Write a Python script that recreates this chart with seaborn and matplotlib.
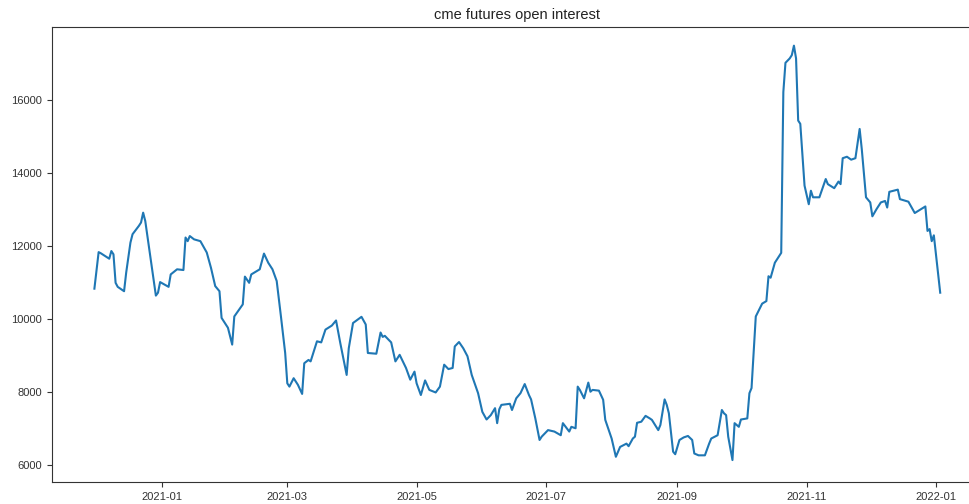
import matplotlib
matplotlib.use("Agg")
import matplotlib.pyplot as plt
import matplotlib.dates as mdates
import pandas as pd
import seaborn as sns

# CME futures open interest, daily readings
dates = [
    "2020-11-30", "2020-12-02", "2020-12-03", "2020-12-07", "2020-12-08", "2020-12-09",
    "2020-12-10", "2020-12-11", "2020-12-14", "2020-12-15", "2020-12-17", "2020-12-18",
    "2020-12-21", "2020-12-22", "2020-12-23", "2020-12-24", "2020-12-27", "2020-12-29",
    "2020-12-30", "2020-12-31", "2021-01-04", "2021-01-05", "2021-01-08", "2021-01-11",
    "2021-01-12", "2021-01-13", "2021-01-14", "2021-01-16", "2021-01-19", "2021-01-22",
    "2021-01-24", "2021-01-26", "2021-01-28", "2021-01-29", "2021-02-01", "2021-02-03",
    "2021-02-04", "2021-02-08", "2021-02-09", "2021-02-11", "2021-02-12", "2021-02-16",
    "2021-02-18", "2021-02-20", "2021-02-22", "2021-02-24", "2021-02-26", "2021-02-28",
    "2021-03-01", "2021-03-02", "2021-03-04", "2021-03-06", "2021-03-08", "2021-03-09",
    "2021-03-11", "2021-03-12", "2021-03-15", "2021-03-17", "2021-03-19", "2021-03-22",
    "2021-03-24", "2021-03-26", "2021-03-29", "2021-03-30", "2021-04-01", "2021-04-05",
    "2021-04-07", "2021-04-08", "2021-04-12", "2021-04-14", "2021-04-15", "2021-04-16",
    "2021-04-19", "2021-04-21", "2021-04-23", "2021-04-26", "2021-04-28", "2021-04-30",
    "2021-05-01", "2021-05-03", "2021-05-05", "2021-05-07", "2021-05-10", "2021-05-12",
    "2021-05-14", "2021-05-16", "2021-05-18", "2021-05-19", "2021-05-21", "2021-05-23",
    "2021-05-25", "2021-05-27", "2021-05-30", "2021-06-01", "2021-06-03", "2021-06-05",
    "2021-06-07", "2021-06-08", "2021-06-09", "2021-06-10", "2021-06-14", "2021-06-15",
    "2021-06-17", "2021-06-19", "2021-06-21", "2021-06-23", "2021-06-24", "2021-06-26",
    "2021-06-28", "2021-06-29", "2021-07-02", "2021-07-05", "2021-07-08", "2021-07-09",
    "2021-07-12", "2021-07-13", "2021-07-15", "2021-07-16", "2021-07-17", "2021-07-19",
    "2021-07-21", "2021-07-22", "2021-07-23", "2021-07-26", "2021-07-28", "2021-07-29",
    "2021-08-01", "2021-08-03", "2021-08-05", "2021-08-08", "2021-08-09", "2021-08-11",
    "2021-08-12", "2021-08-13", "2021-08-15", "2021-08-17", "2021-08-19", "2021-08-20",
    "2021-08-23", "2021-08-24", "2021-08-26", "2021-08-27", "2021-08-28", "2021-08-30",
    "2021-08-31", "2021-09-02", "2021-09-04", "2021-09-06", "2021-09-08", "2021-09-09",
    "2021-09-11", "2021-09-14", "2021-09-16", "2021-09-17", "2021-09-20", "2021-09-22",
    "2021-09-23", "2021-09-24", "2021-09-25", "2021-09-27", "2021-09-28", "2021-09-30",
    "2021-10-01", "2021-10-04", "2021-10-05", "2021-10-06", "2021-10-08", "2021-10-11",
    "2021-10-13", "2021-10-14", "2021-10-15", "2021-10-17", "2021-10-19", "2021-10-20",
    "2021-10-21", "2021-10-22", "2021-10-24", "2021-10-25", "2021-10-26", "2021-10-27",
    "2021-10-28", "2021-10-29", "2021-10-31", "2021-11-02", "2021-11-03", "2021-11-04",
    "2021-11-07", "2021-11-10", "2021-11-11", "2021-11-14", "2021-11-16", "2021-11-17",
    "2021-11-18", "2021-11-20", "2021-11-22", "2021-11-24", "2021-11-26", "2021-11-27",
    "2021-11-29", "2021-12-01", "2021-12-02", "2021-12-04", "2021-12-06", "2021-12-08",
    "2021-12-09", "2021-12-10", "2021-12-14", "2021-12-15", "2021-12-19", "2021-12-22",
    "2021-12-27", "2021-12-28", "2021-12-29", "2021-12-30", "2021-12-31", "2022-01-03",
]

open_interest = [
    10830, 11830, 11800, 11650, 11860, 11770,
    10990, 10880, 10760, 11270, 12090, 12320,
    12550, 12640, 12910, 12680, 11450, 10640,
    10720, 11010, 10880, 11220, 11360, 11340,
    12230, 12130, 12270, 12180, 12130, 11820,
    11400, 10900, 10760, 10030, 9760, 9300,
    10070, 10400, 11160, 10990, 11220, 11360,
    11790, 11540, 11360, 11040, 10070, 9070,
    8240, 8150, 8380, 8200, 7950, 8790,
    8880, 8840, 9390, 9360, 9710, 9820,
    9960, 9340, 8470, 9200, 9890, 10060,
    9850, 9070, 9050, 9630, 9510, 9540,
    9360, 8840, 9020, 8660, 8340, 8560,
    8240, 7920, 8320, 8060, 7990, 8150,
    8750, 8630, 8660, 9250, 9370, 9200,
    8980, 8470, 7970, 7460, 7250, 7370,
    7560, 7150, 7530, 7650, 7680, 7510,
    7830, 7970, 8220, 7920, 7800, 7280,
    6690, 6780, 6960, 6920, 6820, 7150,
    6920, 7050, 7010, 8150, 8060, 7830,
    8260, 8010, 8060, 8040, 7790, 7240,
    6730, 6230, 6500, 6590, 6520, 6730,
    6780, 7160, 7190, 7350, 7280, 7240,
    6960, 7100, 7800, 7650, 7420, 6370,
    6300, 6690, 6760, 6800, 6690, 6320,
    6270, 6270, 6590, 6730, 6820, 7510,
    7420, 7370, 6780, 6140, 7150, 7050,
    7250, 7280, 7970, 8110, 10070, 10420,
    10490, 11170, 11130, 11540, 11720, 11810,
    16210, 17010, 17130, 17220, 17480, 17130,
    15430, 15340, 13650, 13140, 13510, 13330,
    13330, 13830, 13690, 13580, 13760, 13690,
    14400, 14440, 14360, 14400, 15200, 14650,
    13330, 13190, 12810, 13010, 13190, 13230,
    13050, 13480, 13540, 13280, 13210, 12900,
    13080, 12410, 12460, 12130, 12290, 10720,
]

tick_months = [1, 3, 5, 7, 9, 11]

plt.rcParams["font.family"] = ["Liberation Sans", "DejaVu Sans"]
plt.rcParams["xtick.labelsize"] = 8
plt.rcParams["ytick.labelsize"] = 8
plt.rcParams["xtick.color"] = "#333333"
plt.rcParams["ytick.color"] = "#333333"
plt.rcParams["axes.edgecolor"] = "#333333"

df = pd.DataFrame({"date": pd.to_datetime(dates), "open_interest": open_interest})

fig = plt.figure(figsize=(9.69, 5.04), dpi=100)
ax = fig.add_axes([52 / 969, 22 / 504, 930.6 / 969, 455 / 504])

sns.lineplot(data=df, x="date", y="open_interest", ax=ax,
             color="#1f77b4", linewidth=1.5)

ax.set_xlim(pd.Timestamp("2020-11-10"), pd.Timestamp("2022-01-23"))
ax.set_ylim(5540, 17990)
ax.xaxis.set_major_locator(mdates.MonthLocator(bymonth=tick_months))
ax.xaxis.set_major_formatter(mdates.DateFormatter("%Y-%m"))
ax.set_xlabel("")
ax.set_ylabel("")
ax.set_title("cme futures open interest", fontsize=10.5, color="#222222")

fig.savefig("out.png", dpi=100)
